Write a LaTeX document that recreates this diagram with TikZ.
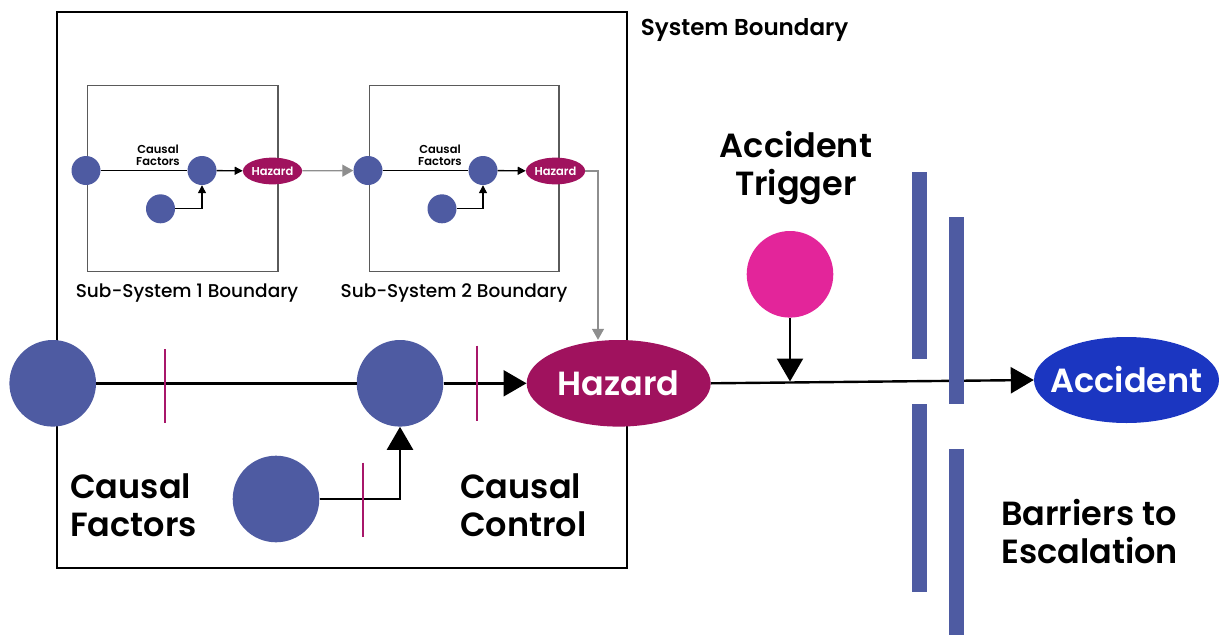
\documentclass[tikz,border=0pt]{standalone}
\usepackage{fontspec}
\usetikzlibrary{shapes.geometric,arrows.meta}
\setmainfont{Poppins}
% heavier weight for labels, medium weight for the sub-system captions
\IfFontExistsTF{Poppins SemiBold}
  {\newfontfamily\hvfamily{Poppins SemiBold}\newcommand\hvfont{\hvfamily}}
  {\newcommand\hvfont{\bfseries}}
\IfFontExistsTF{Poppins Medium}
  {\newfontfamily\mdfamily{Poppins Medium}\newcommand\mdfont{\mdfamily}}
  {\newcommand\mdfont{\normalfont}}

\definecolor{dotblue}{HTML}{4E5BA2}
\definecolor{hazred}{HTML}{A0125E}
\definecolor{tickred}{HTML}{A8176A}
\definecolor{trigpink}{HTML}{E3259A}
\definecolor{accblue}{HTML}{1B36C1}
\definecolor{subgray}{HTML}{5A5A5A}
\definecolor{linkgray}{HTML}{8E8E8E}

\tikzset{
  sysbox/.style={draw=black, line width=2pt},
  subbox/.style={draw=subgray, line width=1.3pt},
  bigdot/.style={circle, fill=dotblue, minimum size=86.6pt, inner sep=0pt},
  smalldot/.style={circle, fill=dotblue, minimum size=29pt, inner sep=0pt},
  bighaz/.style={ellipse, fill=hazred, minimum width=184pt, minimum height=86.6pt,
    inner sep=0pt, text=white, font=\hvfont\fontsize{33.5}{38}\selectfont},
  smallhaz/.style={ellipse, fill=hazred, minimum width=57pt, minimum height=26.7pt,
    inner sep=0pt, text=white, font=\hvfont\fontsize{11.5}{12}\selectfont},
  accnode/.style={ellipse, fill=accblue, minimum width=185pt, minimum height=86pt,
    inner sep=0pt, text=white, font=\hvfont\fontsize{33.5}{38}\selectfont},
  trignode/.style={circle, fill=trigpink, minimum size=86.6pt, inner sep=0pt},
  biglabel/.style={font=\hvfont\fontsize{33.5}{38}\selectfont, inner sep=0pt},
  sublabel/.style={font=\mdfont\fontsize{18.5}{22}\selectfont, inner sep=0pt},
  tinylabel/.style={font=\hvfont\fontsize{11.5}{11.8}\selectfont, inner sep=0pt, align=center},
  flow/.style={draw=black, line width=2.4pt},
  bigtip/.style={-{Triangle[length=23pt,width=26pt]}},
  smallflow/.style={draw=black, line width=1.3pt, -{Triangle[length=8pt,width=8pt]}},
  grayflow/.style={draw=linkgray, line width=1.3pt, -{Triangle[length=11pt,width=12pt]}},
  tickmark/.style={draw=tickred, line width=1.8pt},
  barrier/.style={fill=dotblue},
}

\begin{document}
\begin{tikzpicture}[x=1pt, y=-1pt]
\useasboundingbox (0,0) rectangle (1219,635);

% boundaries
\draw[sysbox] (56.5,11.7) rectangle (627,568.3);
\draw[subbox] (87.7,85.7) rectangle (278,271.5);
\draw[subbox] (369.3,85.7) rectangle (559,271.5);
\node[anchor=base west, font=\hvfont\fontsize{23}{25}\selectfont, inner sep=0pt]
  (syslbl) at (640.7,35) {System Boundary};
\node[sublabel, anchor=base] (sub1lbl) at (187,297.3) {Sub-System 1 Boundary};
\node[sublabel, anchor=base] (sub2lbl) at (454,297.3) {Sub-System 2 Boundary};

% sub-system 1
\node[smalldot] (a1) at (86,170.5) {};
\node[smalldot] (a2) at (202,170.5) {};
\node[smalldot] (a3) at (160.5,208.8) {};
\node[smallhaz] (h1) at (272.5,171) {Hazard};
\node[tinylabel, anchor=base] (cf1) at (158,165) {Causal\\Factors};

% sub-system 2
\node[smalldot] (b1) at (368,170.5) {};
\node[smalldot] (b2) at (483,170.5) {};
\node[smalldot] (b3) at (442,208.8) {};
\node[smallhaz] (h2) at (555.5,171) {Hazard};
\node[tinylabel, anchor=base] (cf2) at (440,165) {Causal\\Factors};

% main chain
\node[bigdot] (c1) at (52.7,383.3) {};
\node[bigdot] (c2) at (400,383.3) {};
\node[bigdot] (c3) at (276,499) {};
\node[bighaz] (hz) at (618.7,383.3) {Hazard};
\node[trignode] (trig) at (790,274.3) {};
\node[accnode] (acc) at (1126.5,380) {\makebox[0pt]{Accident}};
\coordinate (hit) at (790,381.5);

% multi-line labels are placed by the baseline of their last line
\node[biglabel, anchor=base west, align=left] (cflbl) at (70,536.7) {Causal\\Factors};
\node[biglabel, anchor=base west, align=left] (cclbl) at (460,536) {Causal\\Control};
\node[biglabel, anchor=base, align=center] (trlbl) at (796,195) {Accident\\Trigger};
\node[biglabel, anchor=base west, align=left] (barlbl) at (1001,563) {Barriers to\\Escalation};

% sub-system connectors
\draw[smallflow, -] (a1) -- (a2);
\draw[smallflow] (a2) -- (h1);
\draw[smallflow] (a3.east) -| (a2.south);
\draw[grayflow] (h1) -- (b1);
\draw[smallflow, -] (b1) -- (b2);
\draw[smallflow] (b2) -- (h2);
\draw[smallflow] (b3.east) -| (b2.south);
\draw[grayflow] (h2.east) -| ([xshift=-20.7pt]hz.north);

% main connectors
\draw[flow] (c1) -- (c2);
\draw[flow, bigtip] (c2) -- (hz);
\draw[flow, bigtip] (c3.east) -| (c2.south);
\draw[flow, bigtip] (hz.east) -- (acc.west);
\draw[flow, bigtip] (trig.south) -- (hit);

% controls on the causal paths
\draw[tickmark] (165,349) -- (165,423.3);
\draw[tickmark] (476.7,345.7) -- (476.7,420.7);
\draw[tickmark] (362.7,462.7) -- (362.7,537.3);

% barriers to escalation
\fill[barrier] (911.7,171.7) rectangle (927.3,359);
\fill[barrier] (949,216.7) rectangle (964.3,404);
\fill[barrier] (911.7,404) rectangle (927.3,591.7);
\fill[barrier] (949,449) rectangle (964.3,635);
\end{tikzpicture}
\end{document}
